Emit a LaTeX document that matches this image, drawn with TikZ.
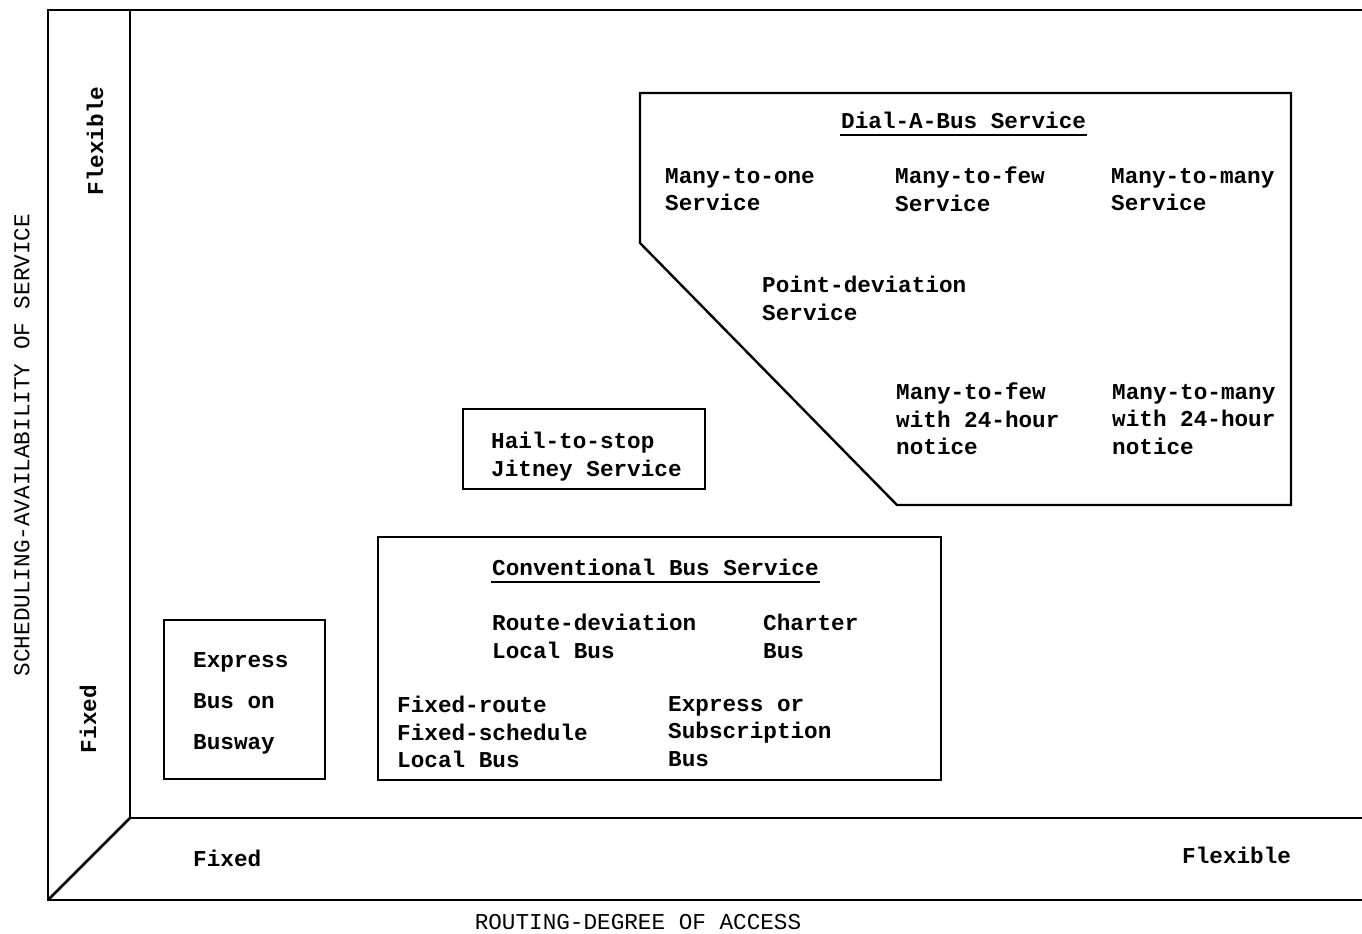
\documentclass[tikz,border=0pt]{standalone}
\usepackage{fontspec}
\setmainfont{Liberation Mono}
\begin{document}
\begin{tikzpicture}[x=0.75pt,y=-0.75pt,line width=1.8pt,
  txt/.style={anchor=north west,inner sep=0pt,align=left,font=\bfseries\fontsize{17}{20.6}\selectfont,execute at begin node={\rule{0pt}{14pt}}},
  wide/.style={anchor=north west,inner sep=0pt,align=left,font=\bfseries\fontsize{17}{30.75}\selectfont,execute at begin node={\rule{0pt}{14pt}}},
  ttl/.style={anchor=north west,inner sep=0pt,font=\bfseries\fontsize{17}{20.6}\selectfont,execute at begin node={\rule{0pt}{14pt}}},
  axis/.style={inner sep=0pt,font=\fontsize{17}{20.6}\selectfont},
  frame/.style={line width=2pt},
  uline/.style={line width=1.4pt}]
\useasboundingbox (0,0) rectangle (1362,933);
% frame
\coordinate (tl) at (48,10);
\coordinate (tr) at (1370,10);
\coordinate (itl) at (130,10);
\coordinate (ibl) at (130,818);
\coordinate (ibr) at (1370,818);
\coordinate (bl) at (48,900);
\coordinate (br) at (1370,900);
\draw[frame] (tr) -- (tl) -- (bl) -- (br);
\draw[frame] (itl) -- (ibl) -- (ibr);
\draw[frame] (bl) -- (ibl);
% axis labels
\node[axis,font=\bfseries\fontsize{17}{20.6}\selectfont,rotate=90] (yflex) at (95,141) {Flexible};
\node[axis,font=\bfseries\fontsize{17}{20.6}\selectfont,rotate=90] (yfix) at (88,719) {Fixed};
\node[axis,rotate=90] (ytitle) at (22,445) {SCHEDULING-AVAILABILITY OF SERVICE};
\node[ttl] (xfix) at (192,846.5) {Fixed};
\node[ttl] (xflex) at (1181,843.5) {Flexible};
\node[axis] (xtitle) at (638,922) {ROUTING-DEGREE OF ACCESS};
% Dial-A-Bus
\draw (640,93) -- (1291,93) -- (1291,505) -- (897,505) -- (640,243) -- cycle;
\node[ttl] (dial) at (840,109) {Dial-A-Bus Service};
\draw[uline] ([yshift=-4.5pt]dial.base west) -- ([yshift=-4.5pt]dial.base east);
\node[txt] (m1) at (664,167) {Many-to-one\\Service};
\node[txt] (mf) at (894,166) {Many-to-few\\Service};
\node[txt] (mm) at (1110,167) {Many-to-many\\Service};
\node[txt] (pd) at (761,275) {Point-deviation\\Service};
\node[txt] (mf24) at (895,382) {Many-to-few\\with 24-hour\\notice};
\node[txt] (mm24) at (1111,383) {Many-to-many\\with 24-hour\\notice};
% Hail
\draw (463,409) rectangle (705,489);
\node[txt] (hail) at (490,431) {Hail-to-stop\\Jitney Service};
% Conventional
\draw (378,537) rectangle (941,780);
\node[ttl] (conv) at (491,556) {Conventional Bus Service};
\draw[uline] ([yshift=-4.5pt]conv.base west) -- ([yshift=-4.5pt]conv.base east);
\node[txt] (rd) at (491,613) {Route-deviation\\Local Bus};
\node[txt] (ch) at (762,613) {Charter\\Bus};
\node[txt] (fr) at (396,695) {Fixed-route\\Fixed-schedule\\Local Bus};
\node[txt] (ex) at (667,695) {Express or\\Subscription\\Bus};
% Express bus
\draw (164,620) rectangle (325,779);
\node[wide] (ebw) at (192,651) {Express\\Bus on\\Busway};
\end{tikzpicture}
\end{document}
